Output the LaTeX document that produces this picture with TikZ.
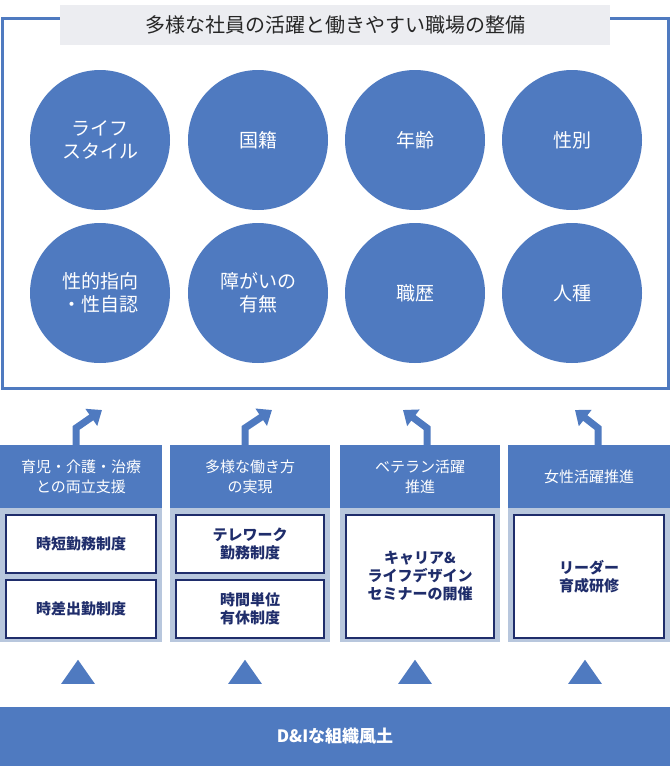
\documentclass[tikz,border=0pt]{standalone}
\usepackage{fontspec}
\setmainfont{Noto Sans CJK JP}
\usetikzlibrary{arrows.meta,shapes.geometric}
\definecolor{mblue}{HTML}{4F7AC0}
\definecolor{lblue}{HTML}{B8C7DD}
\definecolor{navy}{HTML}{1F2D6B}
\definecolor{tgray}{HTML}{ECEDF1}
\tikzset{
 circ/.style={circle,fill=mblue,minimum size=140pt,inner sep=0pt,text=white,font=\fontsize{19pt}{23pt}\selectfont,align=center},
 hdr/.style={fill=mblue,text=white,minimum height=63pt,inner sep=0pt,font=\fontsize{15pt}{20pt}\selectfont,align=center},
 sub/.style={draw=navy,line width=2pt,fill=white,text=navy,inner sep=0pt,font=\bfseries\fontsize{15pt}{18pt}\selectfont,align=center},
 bent/.style={mblue,line width=7pt,-{Triangle[length=13pt,width=20pt]}},
 tri/.style={fill=mblue,isosceles triangle,isosceles triangle apex angle=70,shape border rotate=90,minimum width=28pt,minimum height=24pt,inner sep=0pt}
}
\begin{document}
\begin{tikzpicture}[x=1pt,y=-1pt]
\useasboundingbox (0,0) rectangle (670,766);
\draw[mblue,line width=3pt] (2,18) rectangle (668,388);
\node[fill=tgray,minimum width=550pt,minimum height=40pt,font=\fontsize{20pt}{24pt}\selectfont,text=black!85] (title) at (335,25) {多様な社員の活躍と働きやすい職場の整備};
\node[circ] (c1) at (100,140) {ライフ\\スタイル};
\node[circ] (c2) at (258,140) {国籍};
\node[circ] (c3) at (415,140) {年齢};
\node[circ] (c4) at (572,140) {性別};
\node[circ] (c5) at (100,293) {性的指向\\・性自認};
\node[circ] (c6) at (258,293) {障がいの\\有無};
\node[circ] (c7) at (415,293) {職歴};
\node[circ] (c8) at (572,293) {人種};
\foreach \xa/\xb in {0/162,170/330,340/500,508/670}{
  \fill[lblue] (\xa,508) rectangle (\xb,642);
}
\node[hdr,minimum width=162pt] (h1) at (81,476.5) {育児・介護・治療\\との両立支援};
\node[hdr,minimum width=160pt] (h2) at (250,476.5) {多様な働き方\\の実現};
\node[hdr,minimum width=160pt] (h3) at (420,476.5) {ベテラン活躍\\推進};
\node[hdr,minimum width=162pt] (h4) at (589,476.5) {女性活躍推進};
\node[sub,minimum width=150pt,minimum height=58pt] (s1) at (81,544) {時短勤務制度};
\node[sub,minimum width=150pt,minimum height=58pt] (s2) at (81,609) {時差出勤制度};
\node[sub,minimum width=148pt,minimum height=58pt] (s3) at (250,544) {テレワーク\\勤務制度};
\node[sub,minimum width=148pt,minimum height=58pt] (s4) at (250,609) {時間単位\\有休制度};
\node[sub,minimum width=148pt,minimum height=123pt] (s5) at (420,576.5) {キャリア\&\\ライフデザイン\\セミナーの開催};
\node[sub,minimum width=150pt,minimum height=123pt] (s6) at (589,576.5) {リーダー\\育成研修};
\coordinate (b1) at (76,445); \coordinate (b2) at (245,445);
\coordinate (b3) at (427,445); \coordinate (b4) at (598,445);
\coordinate (a1) at (102,410); \coordinate (a2) at (272,410);
\coordinate (a3) at (403,410); \coordinate (a4) at (575,410);
\draw[bent] (b1) -- (76,428) -- (a1);
\draw[bent] (b2) -- (245,428) -- (a2);
\draw[bent] (b3) -- (427,428) -- (a3);
\draw[bent] (b4) -- (598,428) -- (a4);
\foreach \x/\n in {78/t1,245/t2,415/t3,585/t4}{
  \node[tri] (\n) at (\x,675) {};
}
\node[fill=mblue,minimum width=670pt,minimum height=59pt,text=white,font=\bfseries\fontsize{17pt}{20pt}\selectfont] (base) at (335,736.5) {D\&Iな組織風土};
\end{tikzpicture}
\end{document}
